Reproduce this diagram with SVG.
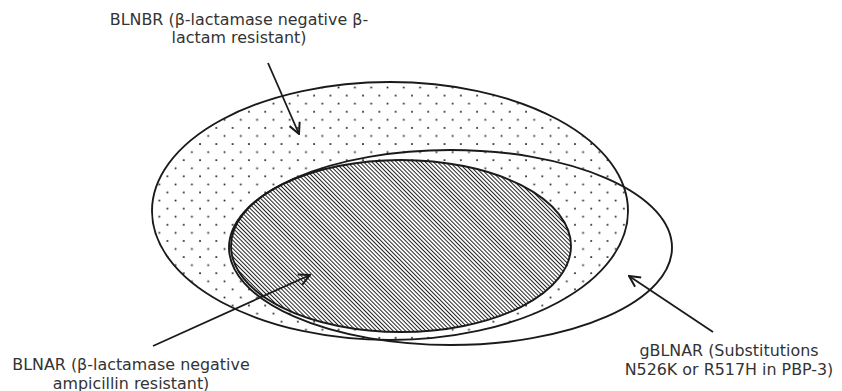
<svg xmlns="http://www.w3.org/2000/svg" width="842" height="391" viewBox="0 0 842 391">
<style>
.outline{fill:none;stroke:#1a1a1a;stroke-width:1.9}
.conn{fill:none;stroke:#1a1a1a;stroke-width:1.8}
.lbl{font-family:"DejaVu Sans",Verdana,sans-serif;font-size:15.9px;fill:#333;text-anchor:middle}
</style>
<defs>
<pattern id="dots" patternUnits="userSpaceOnUse" x="200" y="144" width="16.3" height="16.15">
<rect x="-0.8" y="-0.8" width="1.7" height="1.7" fill="#222"/>
<rect x="15.5" y="-0.8" width="1.7" height="1.7" fill="#222"/>
<rect x="-0.8" y="15.35" width="1.7" height="1.7" fill="#222"/>
<rect x="15.5" y="15.35" width="1.7" height="1.7" fill="#222"/>
<rect x="7.35" y="7.27" width="1.7" height="1.7" fill="#222"/>
</pattern>
<pattern id="hatch" patternUnits="userSpaceOnUse" width="2.9" height="10" patternTransform="rotate(-45)">
<rect x="0" y="0" width="1.0" height="10" fill="#222"/>
</pattern>
<marker id="arr" markerUnits="userSpaceOnUse" markerWidth="14" markerHeight="14" viewBox="0 0 14 14" refX="12.5" refY="7" orient="auto">
<path d="M1.5,1.5 L12.5,7 L1.5,12.5" fill="none" stroke="#1a1a1a" stroke-width="2"/>
</marker>
</defs>
<g id="BLNBR">
<ellipse cx="390" cy="211" rx="238" ry="129" fill="#fff"/>
<ellipse cx="390" cy="211" rx="238" ry="129" fill="url(#dots)"/>
<ellipse class="outline" cx="390" cy="211" rx="238" ry="129"/>
</g>
<g id="BLNAR">
<ellipse cx="401" cy="246" rx="170" ry="86" fill="#fff"/>
<ellipse cx="401" cy="246" rx="170" ry="86" fill="url(#hatch)"/>
<ellipse class="outline" cx="401" cy="246" rx="170" ry="86"/>
</g>
<g id="gBLNAR">
<ellipse class="outline" cx="450.5" cy="247.5" rx="221.5" ry="97.5"/>
</g>
<g id="connectors">
<line class="conn" x1="268" y1="63" x2="299" y2="134" marker-end="url(#arr)"/>
<line class="conn" x1="153" y1="346" x2="310" y2="275" marker-end="url(#arr)"/>
<line class="conn" x1="713" y1="332" x2="629" y2="276" marker-end="url(#arr)"/>
</g>
<g id="labels">
<text class="lbl" x="239" y="24.5">BLNBR (β-lactamase negative β-</text>
<text class="lbl" x="239" y="43">lactam resistant)</text>
<text class="lbl" x="131" y="370">BLNAR (β-lactamase negative</text>
<text class="lbl" x="131" y="388.5">ampicillin resistant)</text>
<text class="lbl" x="729" y="356">gBLNAR (Substitutions</text>
<text class="lbl" x="729" y="374.5">N526K or R517H in PBP-3)</text>
</g>
</svg>
